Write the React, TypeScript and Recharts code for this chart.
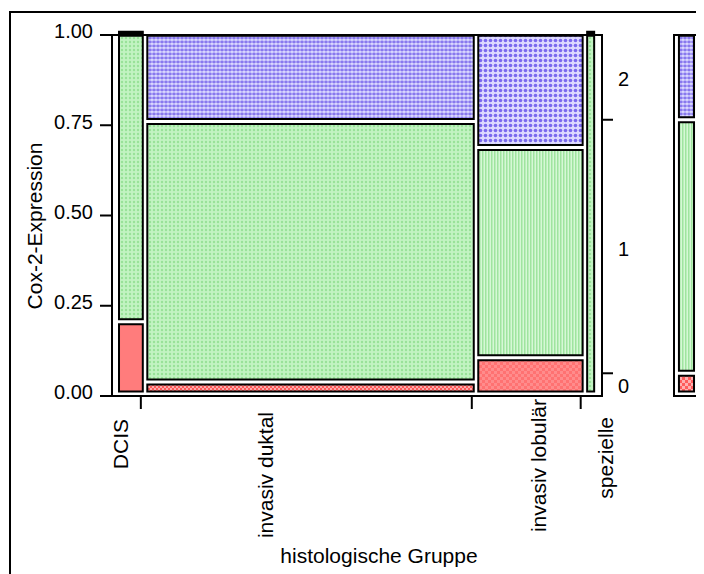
import React from 'react';
import { ComposedChart, XAxis, YAxis, ReferenceArea } from 'recharts';

// Histological groups and their share of all cases (column widths)
const groups = ['DCIS', 'invasiv duktal', 'invasiv lobulär', 'spezielle'];
const groupShare = [0.059, 0.69, 0.227, 0.024];

// Cox-2 expression levels and their share within each group
const levels = ['0', '1', '2'];
const level0Share = [0.2, 0.033, 0.1, 0.0];
const level1Share = [0.8, 0.722, 0.583, 1.0];
const level2Share = [0.0, 0.245, 0.317, 0.0];

// Expression levels over all groups (right-hand margin bar)
const overallShare = [0.057, 0.703, 0.24];

const yTicks = [0, 0.25, 0.5, 0.75, 1];

// ---- layout ----
const FONT = '"Liberation Sans", Arial, Helvetica, sans-serif';
const X0 = 0.0097;
const XSPAN = 0.9789;
const HGAP = 0.0046;
const Y0 = 0.006;
const YSPAN = 0.999;
const VGAP = 0.0068;
const TICK_INSET = 0.004;
const CAP = 0.004;
// baseline position and drop below the axis of each rotated group name
const labelX = [0.0333, 0.329, 0.885, 1.022];
const labelDrop = [23, 16, 3, 21];
// horizontal extent of the margin bar inside its frame
const MX1 = 0.19;
const MX2 = 0.77;

const shareTable = [level0Share, level1Share, level2Share];
const cellFill = [
  ['#ff7c7c', 'url(#greenDots)', ''],
  ['url(#redCheck)', 'url(#greenDots)', 'url(#blueFine)'],
  ['url(#redSoft)', 'url(#greenStripes)', 'url(#blueCoarse)'],
  ['#ff7c7c', 'url(#greenDots)', ''],
];
const overallFill = ['url(#redBig)', 'url(#greenStripes)', 'url(#blueFine)'];

type Cell = { id: string; x1: number; x2: number; y1: number; y2: number; fill: string };

const mapY = (s: number) => Y0 + s * YSPAN;

function mosaicCells(): Cell[] {
  const out: Cell[] = [];
  let cum = 0;
  groups.forEach((g, gi) => {
    const x1 = X0 + cum * XSPAN + HGAP;
    cum += groupShare[gi];
    const x2 = X0 + cum * XSPAN - HGAP;
    let s = 0;
    levels.forEach((lv, li) => {
      const share = shareTable[li][gi];
      const lo = s;
      s += share;
      if (share > 0) {
        out.push({ id: `${g}-${lv}`, x1, x2, y1: mapY(lo) + VGAP, y2: mapY(s) - VGAP, fill: cellFill[gi][li] });
      } else if (li === levels.length - 1) {
        // empty top level is drawn as a flat cap
        out.push({ id: `${g}-${lv}`, x1, x2, y1: mapY(lo) - CAP, y2: mapY(lo) + CAP, fill: '#000' });
      }
    });
  });
  return out;
}

function overallCells(): Cell[] {
  const out: Cell[] = [];
  let s = 0;
  levels.forEach((lv, li) => {
    const lo = s;
    s += overallShare[li];
    out.push({ id: `all-${lv}`, x1: MX1, x2: MX2, y1: mapY(lo) + VGAP, y2: mapY(s) - VGAP, fill: overallFill[li] });
  });
  return out;
}

const cells = mosaicCells();
const marginCells = overallCells();

// tick marks between the groups
const xTicks: number[] = [];
{
  let cum = 0;
  for (let i = 0; i < groups.length - 1; i++) {
    cum += groupShare[i];
    xTicks.push(X0 + cum * XSPAN - HGAP - TICK_INSET);
  }
}

// right axis: boundaries and centres of the overall levels
const levelBounds: number[] = [];
const levelMids: number[] = [];
{
  let s = 0;
  overallShare.forEach((v, i) => {
    const lo = s;
    s += v;
    levelMids.push(mapY((lo + s) / 2));
    if (i < overallShare.length - 1) levelBounds.push(mapY(s));
  });
}

const NoLabel = () => <g />;

const LeftTick = (props: any) => {
  const { x, y, payload } = props;
  return (
    <text x={x} y={y} dy={3.3} textAnchor="end" fontSize={20} fontFamily={FONT} fill="#000">
      {Number(payload.value).toFixed(2)}
    </text>
  );
};

const LevelTick = (props: any) => {
  const { x, y, index } = props;
  return (
    <text x={x} y={y} dy={9.5} textAnchor="start" fontSize={20} fontFamily={FONT} fill="#000">
      {levels[index]}
    </text>
  );
};

const GroupTick = (props: any) => {
  const { x, y, index } = props;
  const ty = y + labelDrop[index];
  return (
    <text
      x={x}
      y={ty}
      transform={`rotate(-90 ${x} ${ty})`}
      textAnchor="end"
      fontSize={21}
      fontFamily={FONT}
      fill="#000"
    >
      {groups[index]}
    </text>
  );
};

const Patterns = () => (
  <svg width={0} height={0} style={{ position: 'absolute', left: 0, top: 0 }}>
    <defs>
      <pattern id="greenDots" width={4} height={4} patternUnits="userSpaceOnUse">
        <rect width={4} height={4} fill="#c2f3c2" />
        <circle cx={2} cy={2} r={1.2} fill="#98e298" />
      </pattern>
      <pattern id="greenStripes" width={3} height={3} patternUnits="userSpaceOnUse">
        <rect width={3} height={3} fill="#d6f8d6" />
        <rect width={1.5} height={3} fill="#9fe49f" />
      </pattern>
      <pattern id="blueFine" width={4} height={4} patternUnits="userSpaceOnUse">
        <rect width={4} height={4} fill="#dcdaff" />
        <ellipse cx={2} cy={2} rx={1.8} ry={1.4} fill="#8878ee" />
      </pattern>
      <pattern id="blueCoarse" width={5} height={5} patternUnits="userSpaceOnUse">
        <rect width={5} height={5} fill="#dedaff" />
        <circle cx={2.5} cy={2.5} r={1.8} fill="#7a68ee" />
      </pattern>
      <pattern id="redCheck" width={4} height={4} patternUnits="userSpaceOnUse">
        <rect width={4} height={4} fill="#ffaaaa" />
        <rect width={2} height={2} fill="#ff5a5a" />
        <rect x={2} y={2} width={2} height={2} fill="#ff5a5a" />
      </pattern>
      <pattern id="redSoft" width={6} height={6} patternUnits="userSpaceOnUse">
        <rect width={6} height={6} fill="#ff8c8c" />
        <rect width={3} height={3} fill="#ff7272" />
        <rect x={3} y={3} width={3} height={3} fill="#ff7272" />
      </pattern>
      <pattern id="redBig" width={6} height={6} patternUnits="userSpaceOnUse">
        <rect width={6} height={6} fill="#ffb0b0" />
        <rect width={3} height={3} fill="#ff5c5c" />
        <rect x={3} y={3} width={3} height={3} fill="#ff5c5c" />
      </pattern>
    </defs>
  </svg>
);

export default function App() {
  return (
    <div style={{ position: 'relative', width: 696, height: 566, overflow: 'hidden', background: '#fff' }}>
      <Patterns />
      <div
        style={{
          position: 'absolute',
          left: 1,
          top: 3,
          width: 900,
          height: 900,
          borderLeft: '2px solid #000',
          borderTop: '2px solid #000',
        }}
      />
      <div style={{ position: 'absolute', left: 0, top: 0 }}>
        <ComposedChart width={696} height={566} margin={{ top: 27, right: 100, bottom: 176, left: 44 }}>
          <XAxis
            xAxisId="ticks"
            type="number"
            dataKey="x1"
            domain={[0, 1]}
            ticks={xTicks}
            interval={0}
            allowDataOverflow
            axisLine={false}
            tick={<NoLabel />}
            tickSize={12}
            tickLine={{ stroke: '#000', strokeWidth: 2 }}
            height={1}
          />
          <XAxis
            xAxisId="labels"
            type="number"
            dataKey="x1"
            domain={[0, 1]}
            ticks={labelX}
            interval={0}
            allowDataOverflow
            axisLine={false}
            tickLine={false}
            tickSize={0}
            tickMargin={0}
            tick={<GroupTick />}
            height={1}
          />
          <YAxis
            yAxisId="left"
            type="number"
            domain={[0, 1]}
            ticks={yTicks}
            interval={0}
            allowDataOverflow
            width={60}
            axisLine={false}
            tickSize={12}
            tickMargin={7}
            tickLine={{ stroke: '#000', strokeWidth: 2 }}
            tick={<LeftTick />}
          />
          <YAxis
            yAxisId="bounds"
            orientation="right"
            type="number"
            domain={[0, 1]}
            ticks={levelBounds}
            interval={0}
            allowDataOverflow
            width={1}
            axisLine={false}
            tick={<NoLabel />}
            tickSize={11}
            tickLine={{ stroke: '#000', strokeWidth: 2 }}
          />
          <YAxis
            yAxisId="levels"
            orientation="right"
            type="number"
            domain={[0, 1]}
            ticks={levelMids}
            interval={0}
            allowDataOverflow
            width={1}
            axisLine={false}
            tickLine={false}
            tickSize={0}
            tickMargin={15}
            tick={<LevelTick />}
          />
          {cells.map((c) => (
            <ReferenceArea
              key={c.id}
              xAxisId="ticks"
              yAxisId="left"
              x1={c.x1}
              x2={c.x2}
              y1={c.y1}
              y2={c.y2}
              fill={c.fill}
              fillOpacity={1}
              stroke="#000"
              strokeWidth={2}
              ifOverflow="visible"
            />
          ))}
          <ReferenceArea
            xAxisId="ticks"
            yAxisId="left"
            x1={0}
            x2={1}
            y1={0}
            y2={1}
            fill="none"
            stroke="#000"
            strokeWidth={2}
            ifOverflow="visible"
          />
        </ComposedChart>
      </div>
      <div style={{ position: 'absolute', left: 659, top: 0 }}>
        <ComposedChart width={37} height={566} margin={{ top: 27, right: 4, bottom: 178, left: 7 }}>
          <XAxis type="number" dataKey="x1" domain={[0, 1]} hide allowDataOverflow />
          <YAxis type="number" domain={[0, 1]} hide allowDataOverflow />
          {marginCells.map((c) => (
            <ReferenceArea
              key={c.id}
              x1={c.x1}
              x2={c.x2}
              y1={c.y1}
              y2={c.y2}
              fill={c.fill}
              fillOpacity={1}
              stroke="#000"
              strokeWidth={2}
              ifOverflow="visible"
            />
          ))}
          <ReferenceArea
            x1={0}
            x2={1}
            y1={0}
            y2={1}
            fill="none"
            stroke="#000"
            strokeWidth={2}
            ifOverflow="visible"
          />
        </ComposedChart>
      </div>
      <svg width={696} height={566} style={{ position: 'absolute', left: 0, top: 0, pointerEvents: 'none' }}>
        <text
          x={34}
          y={218}
          transform="rotate(-90 34 218)"
          textAnchor="middle"
          fontSize={21}
          fontFamily={FONT}
          fill="#000"
        >
          Cox-2-Expression
        </text>
        <text x={371} y={555} textAnchor="middle" fontSize={21} fontFamily={FONT} fill="#000">
          histologische Gruppe
        </text>
      </svg>
    </div>
  );
}
